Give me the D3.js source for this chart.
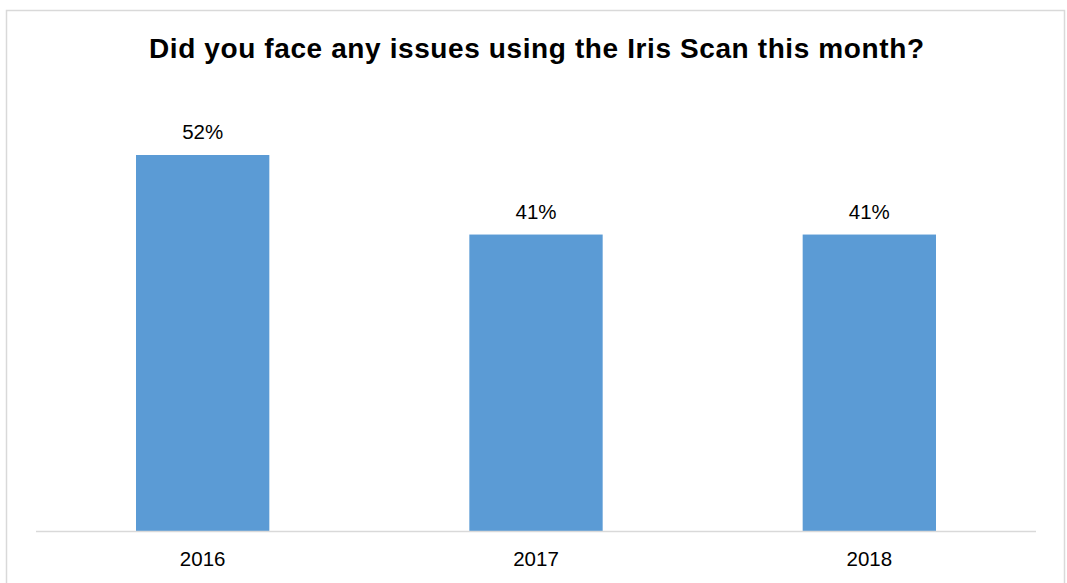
<!DOCTYPE html>
<html><head><meta charset="utf-8">
<script src="https://cdn.jsdelivr.net/npm/d3@7"></script>
<style>html,body{margin:0;padding:0;background:#fff;}svg{display:block;}</style>
</head><body>
<script>
const categories = ["2016", "2017", "2018"];
const values = [52, 41, 41];
const valueLabels = ["52%", "41%", "41%"];
const title = "Did you face any issues using the Iris Scan this month?";

const W = 1067, H = 583;
const FONT = "Liberation Sans, Arial, sans-serif";
const svg = d3.select("body").append("svg").attr("width", W).attr("height", H);
svg.append("rect").attr("x", 6.5).attr("y", 10.5).attr("width", 1058).attr("height", 580)
  .attr("fill", "#fff").attr("stroke", "#d9d9d9").attr("stroke-width", 1.5);

const x = d3.scaleBand().domain(categories).range([36, 1036]).paddingInner(0.6).paddingOuter(0.3);
const y = d3.scaleLinear().domain([0, 52]).range([531, 155]);

svg.append("text").attr("x", 536.5).attr("y", 58).attr("text-anchor", "middle")
  .attr("font-family", FONT).attr("font-weight", "bold")
  .attr("font-size", 28).attr("textLength", 775).attr("lengthAdjust", "spacing")
  .attr("fill", "#000").text(title);

svg.selectAll("rect.bar").data(values).enter().append("rect").attr("class", "bar")
  .attr("x", (d, i) => x(categories[i])).attr("width", x.bandwidth())
  .attr("y", d => y(d)).attr("height", d => y(0) - y(d)).attr("fill", "#5B9BD5");

svg.selectAll("text.val").data(values).enter().append("text").attr("class", "val")
  .attr("x", (d, i) => x(categories[i]) + x.bandwidth() / 2).attr("y", d => y(d) - 16)
  .attr("text-anchor", "middle").attr("font-family", FONT)
  .attr("font-size", 20.5).attr("fill", "#000").text((d, i) => valueLabels[i]);

const axis = svg.append("g").attr("transform", "translate(0,531.5)")
  .call(d3.axisBottom(x).tickSize(0).tickPadding(19.5));
axis.select(".domain").attr("stroke", "#d9d9d9").attr("stroke-width", 1.5).attr("d", "M36,0H1036");
axis.selectAll("text").attr("font-family", FONT)
  .attr("font-size", 20.5).attr("fill", "#000");
</script>
</body></html>
